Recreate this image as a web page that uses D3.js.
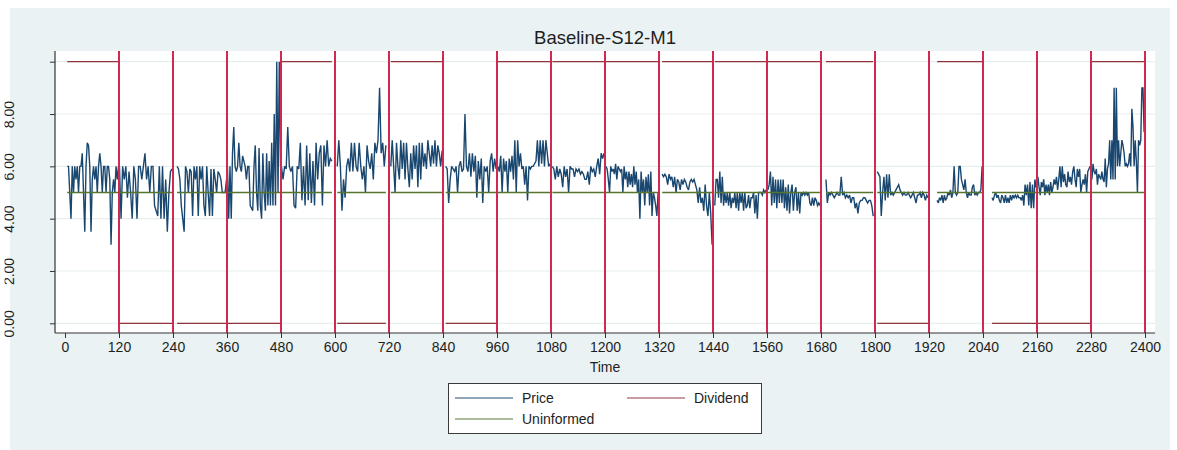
<!DOCTYPE html>
<html>
<head>
<meta charset="utf-8">
<script src="https://cdn.jsdelivr.net/npm/d3@7"></script>
<style>
  html, body { margin: 0; padding: 0; background: #ffffff; }
  svg { display: block; }
  text { font-family: "Liberation Sans", Arial, Helvetica, sans-serif; }
</style>
</head>
<body>
<svg id="chart" width="1177" height="450"></svg>
<script>
// ---------------- DATA ----------------
const title = "Baseline-S12-M1";
const xTickValues = [0,120,240,360,480,600,720,840,960,1080,1200,1320,1440,1560,1680,1800,1920,2040,2160,2280,2400];
const yTickValues = [0,2,4,6,8,10];
const yLabelValues = [0,2,4,6,8];
const periodBoundaries = [120,240,360,480,600,720,840,960,1080,1200,1320,1440,1560,1680,1800,1920,2040,2160,2280,2400];
const periodStart = [5,121,249,361,481,605,724,846,962,1083,1202,1327,1444,1562,1691,1805,1938,2060,2162,2282];
const periodEnd   = [119,238,359,479,593,713,838,958,1078,1198,1318,1438,1558,1678,1796,1918,2038,2158,2278,2398];
const dividend    = [10,0,0,0,10,0,10,0,10,10,10,10,10,10,10,0,10,0,0,10];
const uninformed  = [5,5,5,5,5,5,5,5,5,5,5,5,5,5,5,5,5,5,5,5];
const priceByPeriod = [
  [6,6,5,4,6,5,6,5.5,6,5,6,6,6.5,5,3.5,6,6.9,6.8,6,3.5,5.5,6,5.5,6,5,6,6.5,6,5,6,6,5,6,6,5.5,3,5,5.5,5,6,5.5,6],
  [6,4,6,5.5,6,4.8,5.8,5,4,6,5.5,4,6,6,5.5,6,6.5,5.5,6,5,6,6,4.5,4.3,4.1,6,4,6,4,5.5,3.5,5,5.8,5.9],
  [6,5.9,5.5,4.5,4,3.5,6,5.8,5,5.9,5.8,4.1,6,5.5,6,4.1,6,5.5,6,4.5,4.1,6,5,4.1,5.9,4.1,5.9,5.5,5,5.8,5.7,5.5,5,5,5,5.5],
  [6,4,6,4,6.5,7.5,6,5.8,6,6.9,6,5.8,6.4,6.2,6,5.5,6,6,4.5,4.4,4.3,6,6.8,5,4.3,6.7,4.5,4,6.5,5,4.3,6.5,4.5,6.2,4.5,6.9,4.5,8,4.5,10,5,10,6],
  [6,5.5,6,5.9,7.5,6,5.8,6,4.5,4.4,6,5.9,6.9,4.7,6,4.5,6.8,4.7,6.5,4.6,6.2,4.5,6.9,5.5,6.5,6.8,4.5,6.8,6,7,6,6.3,6.2],
  [6,7,6,4.3,5.5,4.8,6,6.3,5.8,6.9,5.8,6.9,6,5.8,6.9,6,5.5,6,5,6.8,6.2,5.9,6.5,5.5,6.9,6.5,7,9,6.5,6.9,6,6.8],
  [6,7,6,5,6.9,6,5.5,7,5.9,6.9,5.5,6.9,5.9,5.2,6.5,5.5,6.8,5.9,6.8,5.2,6.9,5.5,6.9,6,6.5,5.9,7,6.5,6,6.8,6.1,7,6,6.8,6.5,6,6.6],
  [6,5.9,4.6,5.5,6,5.9,5.8,6,5,6,6.2,5.8,5.9,8,6,5.8,6.5,5.6,6.5,5.8,6.4,4.8,6.2,5.5,6.3,4.6,6,5.8,6,5,6.2,6.5,5.8,6.3,5.9],
  [6,5.8,6.4,5,6.3,5.8,6.2,5,6.3,5.8,6.4,5.5,7,5,7,6,6.5,5.9,6,5.3,6,4.7,6,5.9,6,6,6.1,6.2,7,6,7,6.1,7,6,7,6.5,6,6.1],
  [6,5.9,5.5,6,5.6,5.9,5.7,5.2,6,5.6,5.9,5,6,5.9,5.9,5.6,5.9,5.8,5.9,5.7,5.8,5.7,5.5,5.5,5.8,5.3,6,5.8,5.9,5.6,6,6.3,5.7,6.5,6.3,6.5],
  [6,5.9,5.5,5,6,5.8,5.9,5.7,6.1,5.5,6,5.9,5.8,5.9,5,6,5.5,5.8,5.2,5.8,5.3,5.7,5.2,6,5.3,5.8,5,5.5,4,5.8,5,5.5,4.5,5.6,5,5.7,4.5,5.8,4.1,5,4.8,4.5,4.1,5],
  [5.7,5.6,5.7,5.6,5.3,5.7,5.5,5.6,5.2,5.6,5,5.5,5.4,5.1,5.5,5.3,5.5,5.4,5.2,5.1,5.4,5.5,5.4,5.5,5.3,5.1,4.6,5.2,4.6,4.8,4.3,5.3,4.5,4.1,5,4.2,3],
  [4.5,5.5,5.5,4.8,5.8,4.6,5.6,4.5,5,4.6,5,4.5,5,4.4,4.8,4.6,5,4.4,5,4.3,5,4.6,5,4.3,5,4.4,4.5,4.9,4.4,4.8,4.8,5,4.2,4.9,4,5,5,5,4.9,5.1,5,5.1],
  [5.1,5.3,5.8,4.5,5.6,4.6,5.5,4.4,5.5,4.6,5.5,4.6,5.5,4.4,5.2,4.3,5.3,4.2,5,5.3,4.3,5,5.2,4.3,5,4.2,5,4.9,5,4.9,5,4.9,5,4.6,4.5,4.8,4.5,4.8,4.7,4.5,4.6,4.5],
  [5.5,4.6,5,4.9,5,4.9,4.8,4.9,5,4.9,4.9,5.6,4.9,5,4.8,4.9,4.8,4.9,4.6,4.8,4.8,4.4,4.6,4.2,4.6,4.7,4.7,4.8,4.8,4.7,4.6,4.7,4.7,4.5,4.1],
  [5.8,5.7,5.6,4.1,5,5.6,4.7,5.7,4.8,5.7,4.9,5,4.9,5,5.1,5.2,5.3,5.1,5,4.9,5,4.9,4.9,5,4.9,4.8,4.9,5,4.8,4.6,4.9,4.9,5,4.8,5,4.9,4.7,4.9,4.8],
  [4.7,4.6,4.8,4.7,4.9,4.6,4.9,4.7,4.8,5,4.9,5.1,4.8,5,6,5,4.9,5,6,6,5.5,5.3,5.1,5.5,5,4.8,5,4.9,4.9,5.2,5.3,4.9,5,4.9,5,5,5.1,6],
  [4.8,4.7,4.9,5,4.8,4.9,4.7,4.6,4.9,4.8,4.6,4.9,4.6,4.8,4.6,4.9,4.7,4.9,4.8,4.9,4.8,4.9,4.8,4.8,4.7,4.9,4.5,5.3,4.9,5.3,4.5,5.4,4.4,5.3,4.4,5.5,5.2],
  [5.6,5.2,4.9,5.4,5.2,5.5,4.9,5.3,5,5.3,4.9,5.4,5,5.2,5.5,5.3,5.6,5.1,5.5,6,5.2,6,5.4,5.7,5.3,5.2,5.8,5.4,5.6,5.3,5.8,6,5.5,5.2,5.9,5.6,5.9,5,5.3,5.5,5.3,5.7,5,5.8,5.9,6],
  [5.5,6.1,5.8,5.7,5.9,5.3,5.7,5.6,5.5,5.8,5.5,5.4,6.3,5.2,5.9,6.1,7,5.5,7,5.5,9,5.5,9,6,7,6,6.5,7,6.8,6.5,6,6.1,6,6.1,6.5,6,8.2,7.5,6,7,6.2,5,7,6.8,7,9,9,7.3]
];
const legendLabels = ["Price", "Dividend", "Uninformed"];

// ---------------- STYLE ----------------
const colPrice = "#1a476f";
const colDiv = "#90353b";
const colUninf = "#55752f";
const colXline = "#d02a52";
const colBg = "#eaf2f3";
const colGrid = "#e6eef0";
const colAxis = "#333333";
const colText = "#1e1e1e";

const svg = d3.select("#chart");
const plotL = 55, plotR = 1155, plotT = 51, plotB = 333;

const x = d3.scaleLinear().domain([0, 2400]).range([65, 1145]);
const y = d3.scaleLinear().domain([0, 10]).range([323.3, 61.7]);

// clip for the y labels (the original is cropped at the left edge)
svg.append("defs").append("clipPath").attr("id", "ylabclip")
  .append("rect").attr("x", 4.5).attr("y", 0).attr("width", 60).attr("height", 450);

// outer background
svg.append("rect").attr("x", 10).attr("y", 8).attr("width", 1160).attr("height", 442).attr("fill", colBg);
// plot region
svg.append("rect").attr("x", plotL).attr("y", plotT).attr("width", plotR - plotL).attr("height", plotB - plotT).attr("fill", "#ffffff");

// gridlines
svg.append("g").selectAll("line").data(yTickValues).join("line")
  .attr("x1", plotL).attr("x2", plotR)
  .attr("y1", d => y(d)).attr("y2", d => y(d))
  .attr("stroke", colGrid).attr("stroke-width", 1.2);

// title
svg.append("text").attr("x", 605).attr("y", 44).attr("text-anchor", "middle")
  .attr("font-size", 18.5).attr("fill", colText).text(title);

// series
const line = d3.line().x(d => x(d.t)).y(d => y(d.v));
const periods = priceByPeriod.map((vals, i) => {
  const s = periodStart[i], e = periodEnd[i], n = vals.length;
  return {
    price: vals.map((v, j) => ({ t: s + j * (e - s) / (n - 1), v })),
    div: [{ t: s, v: dividend[i] }, { t: e, v: dividend[i] }],
    uninf: [{ t: s, v: uninformed[i] }, { t: e, v: uninformed[i] }]
  };
});

const gData = svg.append("g");
gData.selectAll("path.price").data(periods).join("path").attr("class", "price")
  .attr("d", d => line(d.price)).attr("fill", "none")
  .attr("stroke", colPrice).attr("stroke-width", 1.4).attr("stroke-linejoin", "miter").attr("stroke-miterlimit", 3);
gData.selectAll("path.div").data(periods).join("path").attr("class", "div")
  .attr("d", d => line(d.div)).attr("fill", "none")
  .attr("stroke", colDiv).attr("stroke-width", 1.3);
gData.selectAll("path.uninf").data(periods).join("path").attr("class", "uninf")
  .attr("d", d => line(d.uninf)).attr("fill", "none")
  .attr("stroke", colUninf).attr("stroke-width", 1.3);

// vertical period lines
svg.append("g").selectAll("line").data(periodBoundaries).join("line")
  .attr("x1", d => x(d)).attr("x2", d => x(d))
  .attr("y1", plotT).attr("y2", plotB)
  .attr("stroke", colXline).attr("stroke-width", 2);

// x axis
const gx = svg.append("g").attr("transform", `translate(0,${plotB})`)
  .call(d3.axisBottom(x).tickValues(xTickValues).tickSize(5).tickSizeOuter(0).tickFormat(d3.format("d")));
gx.select(".domain").remove();
gx.selectAll(".tick line").attr("stroke", colAxis);
gx.selectAll(".tick text").attr("font-size", 14).attr("fill", colText).attr("y", 9).attr("dy", "0.71em")
  .attr("font-family", "Liberation Sans, Arial, sans-serif");
svg.append("line").attr("x1", plotL).attr("x2", plotR).attr("y1", plotB).attr("y2", plotB)
  .attr("stroke", colAxis).attr("stroke-width", 1.2);
svg.append("text").attr("x", 605).attr("y", 372).attr("text-anchor", "middle")
  .attr("font-size", 14).attr("fill", colText).text("Time");

// y axis (wrapped in a clipped group)
const gyWrap = svg.append("g").attr("clip-path", "url(#ylabclip)");
const gy = gyWrap.append("g").attr("transform", `translate(${plotL},0)`)
  .call(d3.axisLeft(y).tickValues(yTickValues).tickSize(5).tickSizeOuter(0)
    .tickFormat(d => yLabelValues.includes(d) ? d3.format(".2f")(d) : ""));
gy.select(".domain").remove();
gy.selectAll(".tick line").attr("stroke", colAxis);
gy.selectAll(".tick text")
  .attr("x", 0).attr("dy", 0).attr("text-anchor", "middle")
  .attr("transform", `translate(${13.5 - plotL},0) rotate(-90)`)
  .attr("font-size", 14).attr("fill", colText)
  .attr("font-family", "Liberation Sans, Arial, sans-serif");
svg.append("line").attr("x1", plotL).attr("x2", plotL).attr("y1", plotT).attr("y2", plotB)
  .attr("stroke", colAxis).attr("stroke-width", 1.2);

// legend
const lg = svg.append("g");
lg.append("rect").attr("x", 448.5).attr("y", 383.5).attr("width", 313).attr("height", 50)
  .attr("fill", "#ffffff").attr("stroke", "#3a3a3a").attr("stroke-width", 1);
const legendItems = [
  { label: legendLabels[0], color: colPrice, x0: 455, y0: 398 },
  { label: legendLabels[1], color: colDiv, x0: 627, y0: 398 },
  { label: legendLabels[2], color: colUninf, x0: 455, y0: 419 }
];
lg.selectAll("line").data(legendItems).join("line")
  .attr("x1", d => d.x0).attr("x2", d => d.x0 + 58)
  .attr("y1", d => d.y0).attr("y2", d => d.y0)
  .attr("stroke", d => d.color).attr("stroke-width", 1.3).attr("stroke-opacity", 0.65);
lg.selectAll("text").data(legendItems).join("text")
  .attr("x", d => d.x0 + 67).attr("y", d => d.y0 + 5)
  .attr("font-size", 14).attr("fill", colText).text(d => d.label);
</script>
</body>
</html>
